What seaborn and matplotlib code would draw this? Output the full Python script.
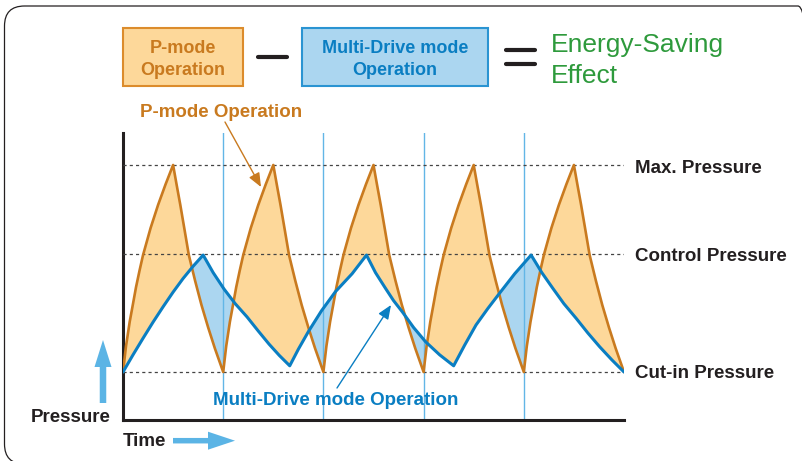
import numpy as np
import pandas as pd
import seaborn as sns
import matplotlib.pyplot as plt
from matplotlib.patches import Rectangle, FancyArrow, FancyBboxPatch

# pressure levels (cut-in = 0, max = 1)
level_names = ["Max. Pressure", "Control Pressure", "Cut-in Pressure"]
level_values = [1.0, 0.57, 0.0]

# P-mode operation (time in P-mode cycles)
pmode_time = [0, 0.03, 0.067, 0.10, 0.13, 0.165, 0.20, 0.275, 0.35, 0.425, 0.50,
              0.535, 0.572, 0.615, 0.657, 0.72, 0.783, 0.85, 0.917,
              1.0, 1.03, 1.067, 1.10, 1.13, 1.165, 1.20, 1.275, 1.35, 1.425, 1.50,
              1.535, 1.572, 1.615, 1.657, 1.72, 1.783, 1.85, 1.917,
              2.0, 2.03, 2.067, 2.10, 2.13, 2.165, 2.20, 2.275, 2.35, 2.425, 2.50,
              2.535, 2.572, 2.615, 2.657, 2.72, 2.783, 2.85, 2.917,
              3.0, 3.03, 3.067, 3.10, 3.13, 3.165, 3.20, 3.275, 3.35, 3.425, 3.50,
              3.535, 3.572, 3.615, 3.657, 3.72, 3.783, 3.85, 3.917,
              4.0, 4.03, 4.067, 4.10, 4.13, 4.165, 4.20, 4.275, 4.35, 4.425, 4.50,
              4.535, 4.572, 4.615, 4.657, 4.72, 4.783, 4.85, 4.917,
              5.0]
pmode_pressure = [0, 0.125, 0.243, 0.33, 0.41, 0.49, 0.565, 0.695, 0.807, 0.907, 1.0,
                  0.905, 0.807, 0.685, 0.565, 0.44, 0.324, 0.215, 0.114,
                  0, 0.125, 0.243, 0.33, 0.41, 0.49, 0.565, 0.695, 0.807, 0.907, 1.0,
                  0.905, 0.807, 0.685, 0.565, 0.44, 0.324, 0.215, 0.114,
                  0, 0.125, 0.243, 0.33, 0.41, 0.49, 0.565, 0.695, 0.807, 0.907, 1.0,
                  0.905, 0.807, 0.685, 0.565, 0.44, 0.324, 0.215, 0.114,
                  0, 0.125, 0.243, 0.33, 0.41, 0.49, 0.565, 0.695, 0.807, 0.907, 1.0,
                  0.905, 0.807, 0.685, 0.565, 0.44, 0.324, 0.215, 0.114,
                  0, 0.125, 0.243, 0.33, 0.41, 0.49, 0.565, 0.695, 0.807, 0.907, 1.0,
                  0.905, 0.807, 0.685, 0.565, 0.44, 0.324, 0.215, 0.114,
                  0]

# Multi-Drive mode operation
multi_time = [0, 0.10, 0.20, 0.30, 0.40, 0.50, 0.60, 0.70, 0.80,
              0.90, 1.008, 1.12, 1.238, 1.35, 1.457, 1.56, 1.664,
              1.75, 1.85, 1.98, 2.12, 2.287, 2.43,
              2.52, 2.62, 2.70, 2.787, 2.90, 3.02, 3.16, 3.30,
              3.41, 3.523, 3.64, 3.757, 3.91, 4.073,
              4.18, 4.29, 4.40, 4.523, 4.64, 4.757, 4.88, 5.0]
multi_pressure = [0, 0.083, 0.163, 0.241, 0.315, 0.386, 0.452, 0.511, 0.565,
                  0.48, 0.401, 0.33, 0.266, 0.198, 0.135, 0.08, 0.03,
                  0.11, 0.195, 0.295, 0.388, 0.475, 0.565,
                  0.48, 0.404, 0.345, 0.291, 0.215, 0.146, 0.083, 0.03,
                  0.13, 0.227, 0.306, 0.38, 0.475, 0.565,
                  0.48, 0.404, 0.33, 0.259, 0.188, 0.122, 0.058, 0.0]

cycle_marks = [1, 2, 3, 4]

ORANGE = "#c97a1f"
ORANGE_FILL = "#fdd89a"
BLUE = "#0a7ec2"
BLUE_FILL = "#abd6f0"
LIGHT_BLUE = "#62b6e6"
ARROW_BLUE = "#5bb4e5"
DARK = "#231f20"
GREEN = "#2e9a3c"

sns.set_theme(style="white")
plt.rcParams["font.family"] = ["Liberation Sans", "DejaVu Sans"]

W, H = 803, 461
fig = plt.figure(figsize=(W / 100, H / 100), dpi=100)


def fx(x):
    return x / W


def fy(y):
    return 1 - y / H


ax = fig.add_axes([fx(123), fy(420), (624 - 123) / W, (420 - 133) / H])

df_p = pd.DataFrame({"time": pmode_time, "pressure": pmode_pressure})
df_m = pd.DataFrame({"time": multi_time, "pressure": multi_pressure})

# fill between the two curves
t_all = np.union1d(df_p["time"], df_m["time"])
p_all = np.interp(t_all, df_p["time"], df_p["pressure"])
m_all = np.interp(t_all, df_m["time"], df_m["pressure"])
ax.fill_between(t_all, p_all, m_all, where=p_all >= m_all, interpolate=True,
                color=ORANGE_FILL, lw=0, zorder=1)
ax.fill_between(t_all, p_all, m_all, where=m_all >= p_all, interpolate=True,
                color=BLUE_FILL, lw=0, zorder=1)

ax.vlines(cycle_marks, -0.3, 1.3, colors=LIGHT_BLUE, lw=1.0, zorder=2)
ax.hlines(level_values, 0, 5, colors="#444444", lw=0.9,
          linestyles=(0, (2.5, 2.5)), zorder=3)

sns.lineplot(data=df_p, x="time", y="pressure", color=ORANGE, lw=1.9,
             estimator=None, sort=False, ax=ax, zorder=4)
sns.lineplot(data=df_m, x="time", y="pressure", color=BLUE, lw=2.2,
             estimator=None, sort=False, ax=ax, zorder=5)

ax.set_xlim(0, 5)
ax.set_ylim((372 - 420) / 207, (372 - 133) / 207)
ax.set_xticks([])
ax.set_yticks([])
ax.set_xlabel("")
ax.set_ylabel("")
sns.despine(ax=ax)
for s in ["left", "bottom"]:
    ax.spines[s].set_color(DARK)
    ax.spines[s].set_linewidth(2.2)

# right-hand level labels
for name, base in zip(level_names, [173.3, 260.7, 378.3]):
    fig.text(fx(635), fy(base), name, fontsize=13.5, fontweight="bold",
             color=DARK, va="baseline", ha="left")

# curve annotations
fig.text(fx(221.5), fy(117), "P-mode Operation", fontsize=13.5,
         fontweight="bold", color=ORANGE, ha="center", va="baseline")
ax.annotate("", xy=(261, H - 187), xytext=(225, H - 122),
            xycoords="figure pixels", textcoords="figure pixels",
            arrowprops=dict(arrowstyle="-|>,head_length=0.6,head_width=0.25",
                            mutation_scale=14, color=ORANGE, lw=1.0,
                            shrinkA=0, shrinkB=0))
fig.text(fx(335.7), fy(405), "Multi-Drive mode Operation", fontsize=13.5,
         fontweight="bold", color=BLUE, ha="center", va="baseline")
ax.annotate("", xy=(391, H - 305), xytext=(337, H - 388),
            xycoords="figure pixels", textcoords="figure pixels",
            arrowprops=dict(arrowstyle="-|>,head_length=0.6,head_width=0.25",
                            mutation_scale=14, color=BLUE, lw=1.0,
                            shrinkA=0, shrinkB=0))

# axis captions with fat arrows
fig.text(fx(30.7), fy(421.7), "Pressure", fontsize=13.5, fontweight="bold",
         color=DARK, ha="left", va="baseline")
fig.text(fx(122.7), fy(446), "Time", fontsize=13.5, fontweight="bold",
         color=DARK, ha="left", va="baseline")
fig.add_artist(FancyArrow(1.03, (H - 403) / 100, 0, (403 - 340) / 100,
                          width=0.065, head_width=0.17, head_length=0.27,
                          length_includes_head=True, color=ARROW_BLUE, lw=0,
                          transform=fig.dpi_scale_trans))
fig.add_artist(FancyArrow(1.73, (H - 440.7) / 100, (235 - 173) / 100, 0,
                          width=0.055, head_width=0.18, head_length=0.27,
                          length_includes_head=True, color=ARROW_BLUE, lw=0,
                          transform=fig.dpi_scale_trans))

# header equation
fig.add_artist(Rectangle((fx(122.7), fy(86)), (243.3 - 122.7) / W, (86 - 28.3) / H,
                         transform=fig.transFigure, facecolor=ORANGE_FILL,
                         edgecolor="#dc8c2c", lw=1.5))
fig.add_artist(Rectangle((fx(301.7), fy(86)), (488 - 301.7) / W, (86 - 28.3) / H,
                         transform=fig.transFigure, facecolor=BLUE_FILL,
                         edgecolor="#2a94d2", lw=1.5))
for txt, base in [("P-mode", 53.3), ("Operation", 75)]:
    fig.text(fx(183), fy(base), txt, fontsize=13, fontweight="bold",
             color=ORANGE, ha="center", va="baseline")
for txt, base in [("Multi-Drive mode", 53.3), ("Operation", 75)]:
    fig.text(fx(394.8), fy(base), txt, fontsize=13, fontweight="bold",
             color=BLUE, ha="center", va="baseline")
fig.add_artist(plt.Line2D([fx(257.7), fx(287.3)], [fy(57.3), fy(57.3)],
                          color=DARK, lw=3, transform=fig.transFigure))
for yy in [50, 64.3]:
    fig.add_artist(plt.Line2D([fx(505.8), fx(535)], [fy(yy), fy(yy)],
                              color=DARK, lw=3, transform=fig.transFigure))
fig.text(fx(550.7), fy(52.3), "Energy-Saving", fontsize=19, color=GREEN,
         ha="left", va="baseline")
fig.text(fx(550.7), fy(83.3), "Effect", fontsize=19, color=GREEN,
         ha="left", va="baseline")

# outer rounded frame (runs off the right and bottom edges)
fig.add_artist(FancyBboxPatch((0.045, (H - 464) / 100), (818 - 4.5) / 100,
                              (464 - 6) / 100,
                              boxstyle="round,pad=0,rounding_size=0.2",
                              facecolor="none", edgecolor=DARK, lw=0.9,
                              transform=fig.dpi_scale_trans))

fig.savefig("out.png", dpi=100)
